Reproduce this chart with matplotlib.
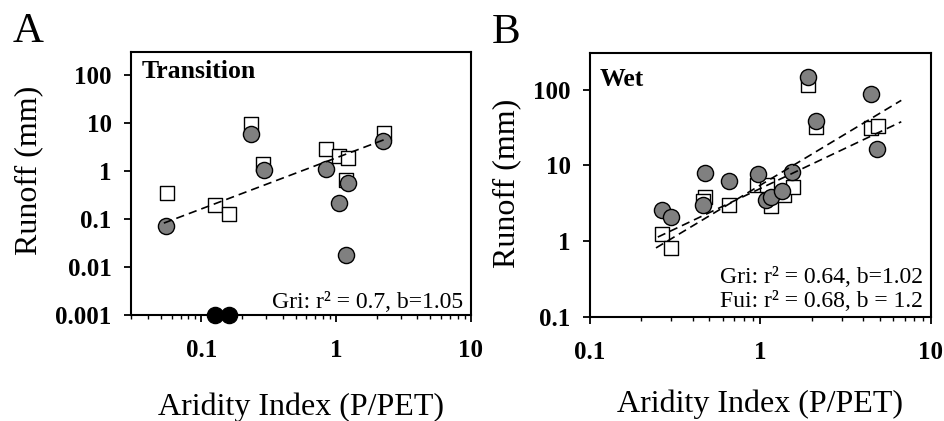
import matplotlib
matplotlib.use("Agg")
import matplotlib.pyplot as plt
from matplotlib.ticker import NullFormatter

plt.rcParams['font.family'] = ['Liberation Serif', 'DejaVu Serif']

# ---- panel A : Transition ----
a_sq_x = [0.0557, 0.1255, 0.159, 0.235, 0.286, 0.839, 1.05, 1.23, 1.19, 2.27]
a_sq_y = [0.34, 0.20, 0.126, 9.5, 1.4, 2.82, 2.05, 1.83, 0.65, 6.25]
a_ci_x = [0.055, 0.235, 0.29, 0.839, 1.23, 1.05, 1.18, 2.24]
a_ci_y = [0.072, 5.8, 1.05, 1.08, 0.555, 0.22, 0.018, 4.27]
a_zero_x = [0.127, 0.159]          # below detection, drawn on the axis
a_zero_y = [0.001, 0.001]
a_fit_x = [0.0526, 2.31]
a_fit_y = [0.082, 4.56]

# ---- panel B : Wet ----
b_sq_x = [0.263, 0.30, 0.47, 0.46, 0.652, 0.96, 1.10, 1.155, 1.38, 1.55, 1.91, 2.12, 4.43, 4.88]
b_sq_y = [1.25, 0.82, 3.9, 3.4, 3.05, 5.6, 5.5, 2.9, 4.1, 5.15, 113, 32, 30.7, 32.9]
b_ci_x = [0.263, 0.299, 0.475, 0.458, 0.652, 0.97, 1.08, 1.16, 1.33, 1.53, 1.91, 2.12, 4.43, 4.83]
b_ci_y = [2.56, 2.1, 7.98, 2.98, 6.19, 7.75, 3.55, 3.8, 4.67, 8.23, 147, 38.3, 88, 16.6]
b_fit1_x = [0.25, 6.7]
b_fit1_y = [1.14, 37.6]
b_fit2_x = [0.244, 6.7]
b_fit2_y = [0.82, 72]

a_yticks = [0.001, 0.01, 0.1, 1, 10, 100]
a_ylabels = ['0.001', '0.01', '0.1', '1', '10', '100']
b_yticks = [0.1, 1, 10, 100]
b_ylabels = ['0.1', '1', '10', '100']
xticks = [0.1, 1, 10]
xlabels = ['0.1', '1', '10']

fig = plt.figure(figsize=(9.45, 4.21), dpi=100)
axA = fig.add_axes([0.1386, 0.2518, 0.3598, 0.6247])
axB = fig.add_axes([0.6243, 0.2463, 0.3608, 0.6271])

gray = '#808080'


def style(ax, xlim, ylim, yticks, ylabels):
    ax.set_xscale('log')
    ax.set_yscale('log')
    ax.set_xlim(*xlim)
    ax.set_ylim(*ylim)
    ax.set_xticks(xticks)
    ax.set_xticklabels(xlabels, fontweight='bold')
    ax.set_yticks(yticks)
    ax.set_yticklabels(ylabels, fontweight='bold')
    ax.xaxis.set_minor_formatter(NullFormatter())
    ax.yaxis.set_minor_formatter(NullFormatter())
    for s in ax.spines.values():
        s.set_linewidth(1.5)
    ax.tick_params(which='major', direction='out', length=5, width=1.3,
                   labelsize=18, pad=9)
    ax.tick_params(axis='x', which='major', pad=12)
    ax.tick_params(axis='x', which='minor', direction='out', length=3, width=1)
    ax.tick_params(axis='y', which='minor', length=0)


# panel A
axA.scatter(a_sq_x, a_sq_y, marker='s', s=100, facecolor='white',
            edgecolor='black', linewidth=1, zorder=2)
axA.scatter(a_ci_x, a_ci_y, marker='o', s=135, facecolor=gray,
            edgecolor='black', linewidth=1, zorder=3)
axA.scatter(a_zero_x, a_zero_y, marker='o', s=135, facecolor='black',
            edgecolor='black', linewidth=1, zorder=5, clip_on=False)
axA.plot(a_fit_x, a_fit_y, 'k--', lw=1.2, dashes=(5, 3), zorder=4)
style(axA, (0.03, 10), (0.001, 300), a_yticks, a_ylabels)
axA.set_xlabel('Aridity Index (P/PET)', fontsize=23, va='center')
axA.xaxis.set_label_coords(0.5, -0.35)
axA.set_ylabel('Runoff (mm)', fontsize=23, va='center')
axA.yaxis.set_label_coords(-0.30, 0.551)
axA.text(0.031, 0.924, 'Transition', transform=axA.transAxes, fontsize=18.5,
         fontweight='bold', ha='left', va='center')
axA.text(0.976, 0.049, 'Gri: r² = 0.7, b=1.05', transform=axA.transAxes,
         fontsize=17, ha='right', va='center')

# panel B
axB.scatter(b_sq_x, b_sq_y, marker='s', s=100, facecolor='white',
            edgecolor='black', linewidth=1, zorder=2)
axB.scatter(b_ci_x, b_ci_y, marker='o', s=135, facecolor=gray,
            edgecolor='black', linewidth=1, zorder=3)
axB.plot(b_fit1_x, b_fit1_y, 'k--', lw=1.2, dashes=(5, 3), zorder=4)
axB.plot(b_fit2_x, b_fit2_y, 'k--', lw=1.2, dashes=(5, 3), zorder=4)
style(axB, (0.1, 10), (0.1, 300), b_yticks, b_ylabels)
axB.set_xlabel('Aridity Index (P/PET)', fontsize=23, va='center')
axB.xaxis.set_label_coords(0.5, -0.33)
axB.set_ylabel('Runoff (mm)', fontsize=23, va='center')
axB.yaxis.set_label_coords(-0.243, 0.509)
axB.text(0.029, 0.899, 'Wet', transform=axB.transAxes, fontsize=18.5,
         fontweight='bold', ha='left', va='center')
axB.text(0.977, 0.149, 'Gri: r² = 0.64, b=1.02', transform=axB.transAxes,
         fontsize=17, ha='right', va='center')
axB.text(0.977, 0.058, 'Fui: r² = 0.68, b = 1.2', transform=axB.transAxes,
         fontsize=17, ha='right', va='center')

fig.text(0.0138, 0.924, 'A', fontsize=31, ha='left', va='center')
fig.text(0.5206, 0.922, 'B', fontsize=31, ha='left', va='center')

fig.savefig('out.png', dpi=100)
